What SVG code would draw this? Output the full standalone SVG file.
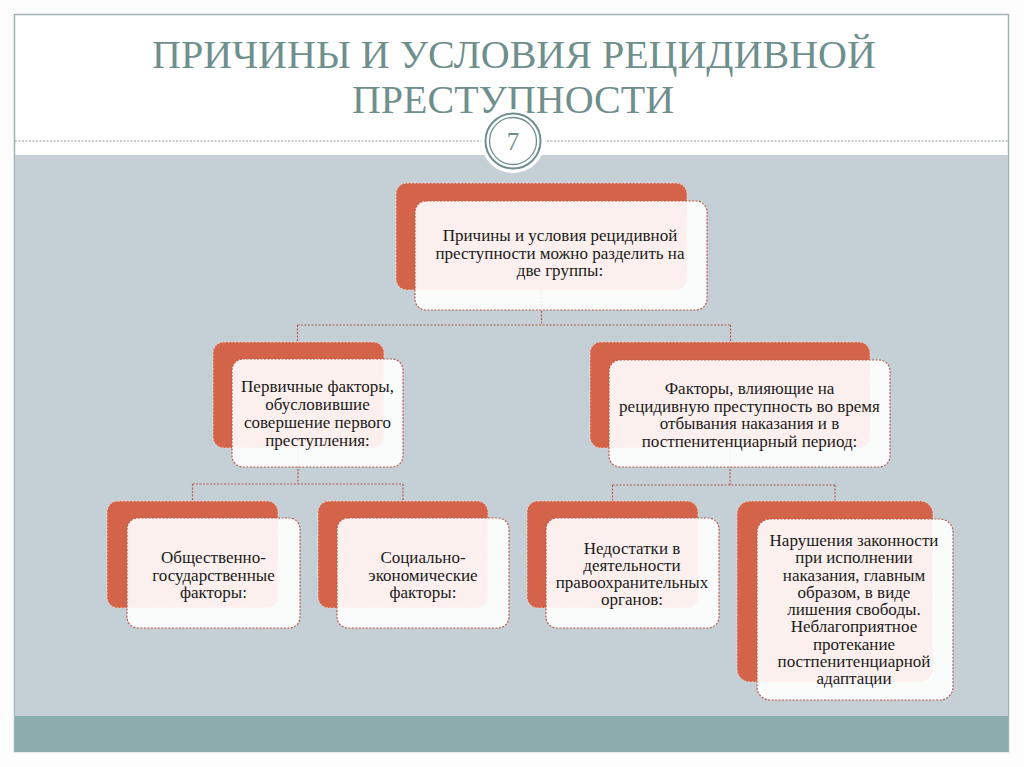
<svg xmlns="http://www.w3.org/2000/svg" width="1024" height="767" viewBox="0 0 1024 767">
<style>
.back{fill:#d3644a;stroke:#f3d2c8;stroke-width:1;stroke-dasharray:2 1.5}
.front{fill:#ffffff;fill-opacity:0.9;stroke:#b95a4c;stroke-width:1.2;stroke-dasharray:2 1.5}
.t{font-family:'Liberation Serif';font-size:17px;fill:#1a1a1a;text-anchor:middle}
.title{font-family:'Liberation Serif';font-size:40px;fill:#6f8f8d;text-anchor:middle}
.conn{fill:none;stroke:#b95a4c;stroke-width:1.2;stroke-dasharray:2 1.5}
</style>
<rect x="0" y="0" width="1024" height="767" fill="#fdfdfd"/>
<g id="frame">
<rect x="14.5" y="14.5" width="994" height="737" fill="#ffffff" stroke="#9fb4b5" stroke-width="1.5"/>
<rect x="15" y="155" width="993" height="561" fill="#c5d0d6"/>
<rect x="15" y="716" width="993" height="36" fill="#8aacad"/>
<line x1="15" y1="141" x2="1008" y2="141" stroke="#8f9a9c" stroke-width="1" stroke-dasharray="2 1.5"/>
</g>
<g id="title">
<text class="title" x="514" y="68">ПРИЧИНЫ И УСЛОВИЯ РЕЦИДИВНОЙ</text>
<text class="title" x="513" y="113">ПРЕСТУПНОСТИ</text>
</g>
<g id="page-number">
<circle cx="513" cy="141" r="32" fill="#ffffff"/>
<circle cx="513" cy="141" r="27.5" fill="none" stroke="#6f8f8d" stroke-width="2"/>
<circle cx="513" cy="141" r="23.5" fill="none" stroke="#6f8f8d" stroke-width="1.3"/>
<text x="513" y="150" font-family="Liberation Serif" font-size="25" fill="#6f8f8d" text-anchor="middle">7</text>
</g>
<g id="connectors">
<path class="conn" d="M541.5 290 V325 M297.5 325 H730.5 M297.5 325 V342 M730.5 325 V342"/>
<path class="conn" d="M298 448 V484 M192.5 484 H403 M192.5 484 V501 M403 484 V501"/>
<path class="conn" d="M730 448 V485 M612.5 485 H835 M612.5 485 V501 M835 485 V501"/>
</g>
<g id="node-root">
<rect class="back" x="396" y="183" width="291" height="107" rx="11"/>
<rect class="front" x="415" y="201" width="292" height="109" rx="11"/>
<text class="t" x="560" y="241">Причины и условия рецидивной</text>
<text class="t" x="560" y="258.5">преступности можно разделить на</text>
<text class="t" x="560" y="276">две группы:</text>
</g>
<g id="node-primary">
<rect class="back" x="213" y="342" width="171" height="106" rx="11"/>
<rect class="front" x="232" y="359" width="171" height="108" rx="11"/>
<text class="t" x="317.5" y="392">Первичные факторы,</text>
<text class="t" x="317.5" y="410">обусловившие</text>
<text class="t" x="317.5" y="428">совершение первого</text>
<text class="t" x="317.5" y="446">преступления:</text>
</g>
<g id="node-secondary">
<rect class="back" x="590" y="342" width="280" height="106" rx="11"/>
<rect class="front" x="609" y="360" width="281" height="107" rx="11"/>
<text class="t" x="749.5" y="394">Факторы, влияющие на</text>
<text class="t" x="749.5" y="411.5">рецидивную преступность во время</text>
<text class="t" x="749.5" y="429">отбывания наказания и в</text>
<text class="t" x="749.5" y="446.5">постпенитенциарный период:</text>
</g>
<g id="node-state">
<rect class="back" x="107" y="501" width="171" height="107" rx="11"/>
<rect class="front" x="127" y="518" width="173" height="110" rx="11"/>
<text class="t" x="213.5" y="563">Общественно-</text>
<text class="t" x="213.5" y="580.5">государственные</text>
<text class="t" x="213.5" y="598">факторы:</text>
</g>
<g id="node-socio">
<rect class="back" x="318" y="501" width="170" height="107" rx="11"/>
<rect class="front" x="337" y="518" width="172" height="110" rx="11"/>
<text class="t" x="423" y="563">Социально-</text>
<text class="t" x="423" y="580.5">экономические</text>
<text class="t" x="423" y="598">факторы:</text>
</g>
<g id="node-law">
<rect class="back" x="527" y="501" width="171" height="107" rx="11"/>
<rect class="front" x="546" y="518" width="173" height="110" rx="11"/>
<text class="t" x="632" y="554">Недостатки в</text>
<text class="t" x="632" y="571">деятельности</text>
<text class="t" x="632" y="588">правоохранительных</text>
<text class="t" x="632" y="605">органов:</text>
</g>
<g id="node-violations">
<rect class="back" x="737" y="501" width="196" height="181" rx="13"/>
<rect class="front" x="757" y="519" width="196" height="181" rx="13"/>
<text class="t" x="854" y="546">Нарушения законности</text>
<text class="t" x="854" y="563.25">при исполнении</text>
<text class="t" x="854" y="580.5">наказания, главным</text>
<text class="t" x="854" y="597.75">образом, в виде</text>
<text class="t" x="854" y="615">лишения свободы.</text>
<text class="t" x="854" y="632.25">Неблагоприятное</text>
<text class="t" x="854" y="649.5">протекание</text>
<text class="t" x="854" y="666.75">постпенитенциарной</text>
<text class="t" x="854" y="684">адаптации</text>
</g>
</svg>
